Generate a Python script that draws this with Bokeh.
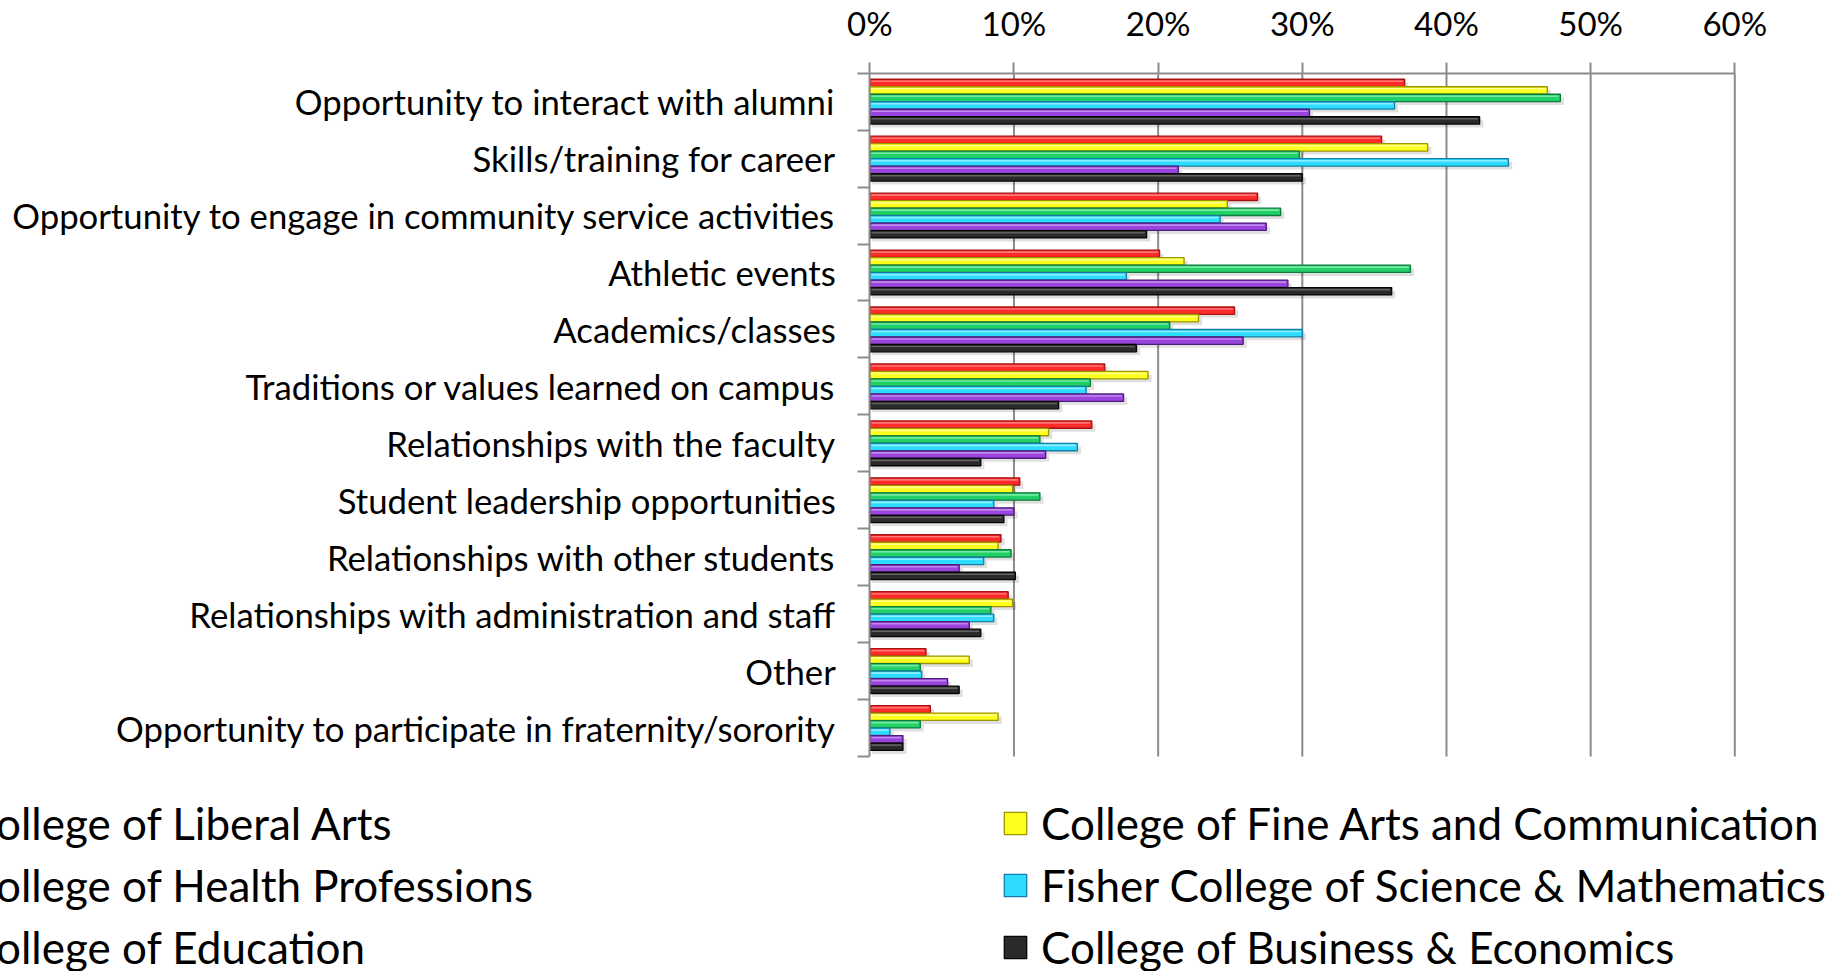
from bokeh.plotting import figure
from bokeh.models import (Range1d, FixedTicker, PrintfTickFormatter, Legend, LegendItem,
                          LinearAxis)
from bokeh.embed import file_html
from bokeh.resources import INLINE

categories = [
    "Opportunity to interact with alumni",
    "Skills/training for career",
    "Opportunity to engage in community service activities",
    "Athletic events",
    "Academics/classes",
    "Traditions or values learned on campus",
    "Relationships with the faculty",
    "Student leadership opportunities",
    "Relationships with other students",
    "Relationships with administration and staff",
    "Other",
    "Opportunity to participate in fraternity/sorority",
]

series_names = [
    "College of Liberal Arts",
    "College of Fine Arts and Communication",
    "College of Health Professions",
    "Fisher College of Science & Mathematics",
    "College of Education",
    "College of Business & Economics",
]

liberal_arts = [37.1, 35.5, 26.9, 20.1, 25.3, 16.3, 15.4, 10.4, 9.1, 9.6, 3.9, 4.2]
fine_arts = [47.0, 38.7, 24.8, 21.8, 22.8, 19.3, 12.4, 9.9, 8.9, 9.9, 6.9, 8.9]
health = [47.9, 29.8, 28.5, 37.5, 20.8, 15.3, 11.8, 11.8, 9.8, 8.4, 3.5, 3.5]
fisher = [36.4, 44.3, 24.3, 17.8, 30.0, 15.0, 14.4, 8.6, 7.9, 8.6, 3.6, 1.4]
education = [30.5, 21.4, 27.5, 29.0, 25.9, 17.6, 12.2, 10.0, 6.2, 6.9, 5.4, 2.3]
business = [42.3, 30.0, 19.2, 36.2, 18.5, 13.1, 7.7, 9.3, 10.1, 7.7, 6.2, 2.3]

x_ticks = [0, 10, 20, 30, 40, 50, 60]

series_values = [liberal_arts, fine_arts, health, fisher, education, business]
fill_colors = ["#FF2A2A", "#FFFF1E", "#22D068", "#2EDCFF", "#9A44DE", "#2A2A2A"]
edge_colors = ["#A81212", "#9C9400", "#0F7A3C", "#137FA6", "#4C1C78", "#050505"]
light_colors = ["#FF8A8A", "#FFFFA8", "#8CF0B4", "#A8F2FF", "#C99AF0", "#707070"]

GRAY = "#8C8C8C"
FONT = "Lato"

W = 1841
H = 971
n = len(categories)

# geometry of the plotting area, in canvas pixels
X0_PX = 869.3      # where 0% sits
PX_PER_PCT = 14.417
Y0_PX = 72.7       # top edge of the first category
PX_PER_CAT = 56.94

x_start = -X0_PX / PX_PER_PCT
x_end = (W - X0_PX) / PX_PER_PCT
y_top = -0.5 - Y0_PX / PX_PER_CAT
y_bottom = -0.5 + (H - Y0_PX) / PX_PER_CAT

p = figure(width=W, height=H, output_backend="svg", toolbar_location=None, tools="",
           x_range=Range1d(x_start, x_end), y_range=Range1d(y_bottom, y_top),
           x_axis_location=None, y_axis_location=None,
           min_border=0, min_border_left=0, min_border_right=0,
           min_border_top=0, min_border_bottom=0)
p.outline_line_color = None
p.background_fill_color = "white"
p.border_fill_color = "white"
p.xgrid.visible = False
p.ygrid.visible = False

# x axis (top), fixed at the top edge of the category block
xa = LinearAxis(fixed_location=-0.5, bounds=(0, 60))
xa.ticker = FixedTicker(ticks=x_ticks, minor_ticks=[])
xa.formatter = PrintfTickFormatter(format="%d%%")
xa.axis_line_color = GRAY
xa.axis_line_width = 2
xa.major_tick_line_color = GRAY
xa.major_tick_line_width = 2
xa.major_tick_out = 11
xa.major_tick_in = 0
xa.minor_tick_line_color = None
xa.major_label_text_font = FONT
xa.major_label_text_font_size = "33px"
xa.major_label_text_color = "black"
xa.major_label_standoff = 19
p.add_layout(xa, "above")

# y axis (left), fixed at 0%
ya = LinearAxis(fixed_location=0, bounds=(-0.5, n - 0.5))
ya.ticker = FixedTicker(ticks=list(range(n)), minor_ticks=[i - 0.5 for i in range(n + 1)])
ya.major_label_overrides = {i: c for i, c in enumerate(categories)}
ya.axis_line_color = GRAY
ya.axis_line_width = 2
ya.major_tick_line_color = None
ya.major_tick_out = 0
ya.major_tick_in = 0
ya.minor_tick_line_color = GRAY
ya.minor_tick_line_width = 2
ya.minor_tick_out = 12
ya.minor_tick_in = 0
ya.major_label_text_font = FONT
ya.major_label_text_font_size = "34.7px"
ya.major_label_text_color = "black"
ya.major_label_standoff = 22
p.add_layout(ya, "left")

# vertical grid lines over the category block
p.segment(x0=x_ticks[1:], x1=x_ticks[1:], y0=-0.5, y1=n - 0.5,
          line_color=GRAY, line_width=2)

bar_h = 0.1317
group = bar_h * len(series_values)
idx = list(range(n))

# soft shadows
for j, vals in enumerate(series_values):
    ys = [i - group / 2 + (j + 0.5) * bar_h + 0.06 for i in idx]
    p.hbar(y=ys, left=0.15, right=[v + 0.25 for v in vals], height=bar_h,
           fill_color="#000000", fill_alpha=0.12, line_color=None)

bar_renderers = []
for j, vals in enumerate(series_values):
    ys = [i - group / 2 + (j + 0.5) * bar_h for i in idx]
    r = p.hbar(y=ys, left=0, right=vals, height=bar_h * 0.98,
               fill_color=fill_colors[j], line_color=edge_colors[j], line_width=1.3)
    bar_renderers.append(r)
    ys_h = [y - bar_h * 0.22 for y in ys]
    p.hbar(y=ys_h, left=0.12, right=[v - 0.12 for v in vals], height=bar_h * 0.22,
           fill_color=light_colors[j], fill_alpha=0.8, line_color=None)

# legend: 3 rows x 2 columns (column-major ordering of items)
order = [0, 2, 4, 1, 3, 5]
legend = Legend(
    items=[LegendItem(label=series_names[k], renderers=[bar_renderers[k]]) for k in order],
    orientation="vertical", nrows=3, ncols=2,
    location=(-73, -7),
    glyph_width=28, glyph_height=28, label_standoff=12,
    label_width=1034, label_height=62, spacing=0, padding=0, margin=0,
    label_text_font=FONT, label_text_font_size="44px", label_text_color="black",
    border_line_color=None, background_fill_alpha=0.0,
)
p.add_layout(legend, "center")

open("out.html", "w").write(file_html(p, INLINE))
